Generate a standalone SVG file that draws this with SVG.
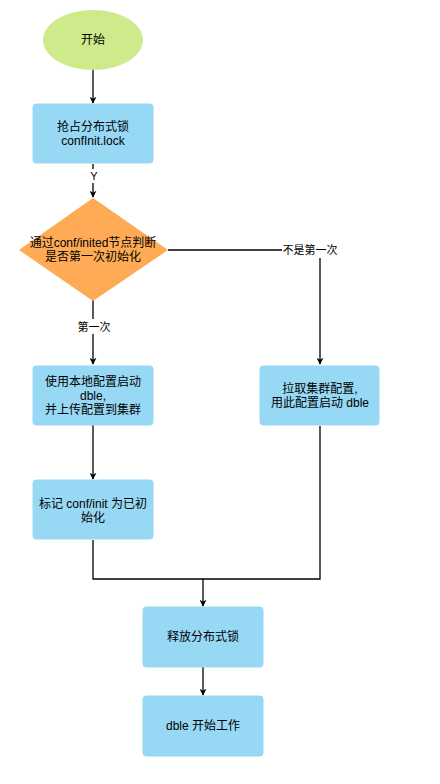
<svg xmlns="http://www.w3.org/2000/svg" width="440" height="784" viewBox="0 0 440 784">
<style>
.box{fill:#97d8f5;stroke:#97d8f5;stroke-width:1}
.t{font-family:"Liberation Sans","Noto Sans CJK SC",sans-serif;font-size:12px;fill:#000;text-anchor:middle}
.e{fill:none;stroke:#000;stroke-width:1.3}
.lbl{font-family:"Liberation Sans","Noto Sans CJK SC",sans-serif;font-size:11px;fill:#000;text-anchor:middle}
</style>
<defs>
<marker id="arr" viewBox="0 0 10 10" refX="9" refY="5" markerWidth="7" markerHeight="7" orient="auto" markerUnits="userSpaceOnUse">
<path d="M0,0 L10,5 L0,10 L3,5 Z" fill="#000"/>
</marker>
</defs>
<rect width="440" height="784" fill="#fff"/>
<g id="edges">
<line class="e" x1="93" y1="70" x2="93" y2="103" marker-end="url(#arr)"/>
<path class="e" d="M93,164 V197" marker-end="url(#arr)"/>
<rect x="87" y="169" width="12" height="14" fill="#fff"/>
<text class="lbl" x="94" y="180">Y</text>
<path class="e" d="M93,300 V364" marker-end="url(#arr)"/>
<rect x="74" y="319" width="40" height="15" fill="#fff"/>
<text class="lbl" x="94" y="331">第一次</text>
<path class="e" d="M168,250 H320 V364" marker-end="url(#arr)"/>
<rect x="282" y="243" width="56" height="15" fill="#fff"/>
<text class="lbl" x="310" y="254">不是第一次</text>
<path class="e" d="M93,425 V479" marker-end="url(#arr)"/>
<path class="e" d="M93,540 V579 H320 V426"/>
<path class="e" d="M203,579 V606" marker-end="url(#arr)"/>
<path class="e" d="M203,667 V695" marker-end="url(#arr)"/>
</g>
<g id="start">
<ellipse cx="93" cy="40" rx="50" ry="30" fill="#cdeb8b"/>
<text class="t" x="93" y="44">开始</text>
</g>
<g id="lock">
<rect class="box" x="33" y="104" width="120" height="59" rx="3"/>
<text class="t" x="93" y="131">抢占分布式锁</text>
<text class="t" x="93" y="145">confInit.lock</text>
</g>
<g id="decision">
<polygon points="93,198 168,250 93,301 19,250" fill="#ffab55"/>
<text class="t" x="93" y="247">通过conf/inited节点判断</text>
<text class="t" x="93" y="261">是否第一次初始化</text>
</g>
<g id="local">
<rect class="box" x="33" y="366" width="120" height="59" rx="3"/>
<text class="t" x="93" y="386">使用本地配置启动</text>
<text class="t" x="93" y="400">dble,</text>
<text class="t" x="93" y="414">并上传配置到集群</text>
</g>
<g id="pull">
<rect class="box" x="260" y="366" width="119" height="59" rx="3"/>
<text class="t" x="320" y="393">拉取集群配置,</text>
<text class="t" x="320" y="407">用此配置启动 dble</text>
</g>
<g id="mark">
<rect class="box" x="33" y="480" width="120" height="59" rx="3"/>
<text class="t" x="93" y="508">标记 conf/init 为已初</text>
<text class="t" x="93" y="522">始化</text>
</g>
<g id="release">
<rect class="box" x="143" y="607" width="120" height="60" rx="3"/>
<text class="t" x="203" y="641">释放分布式锁</text>
</g>
<g id="work">
<rect class="box" x="143" y="696" width="120" height="60" rx="3"/>
<text class="t" x="203" y="730">dble 开始工作</text>
</g>
</svg>
